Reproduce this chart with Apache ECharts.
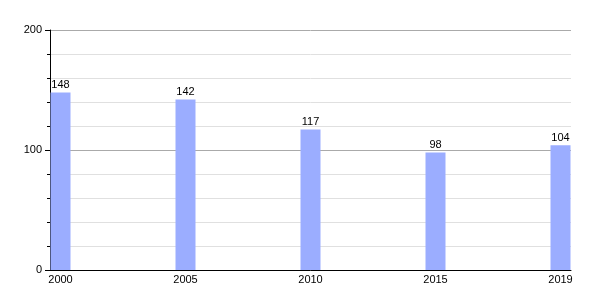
<!DOCTYPE html>
<html>
<head>
<meta charset="utf-8">
<script src="https://cdn.jsdelivr.net/npm/echarts@6/dist/echarts.min.js"></script>
<style>html,body{margin:0;padding:0;background:#fff}#c{width:600px;height:300px}</style>
</head>
<body>
<div id="c"></div>
<script>
var years = ['2000', '2005', '2010', '2015', '2019'];
var values = [148, 142, 117, 98, 104];
var yTicks = [0, 100, 200];

var chart = echarts.init(document.getElementById('c'), null, {renderer: 'canvas'});
var font = 'Liberation Sans, Arial, Helvetica, sans-serif';
chart.setOption({
  animation: false,
  backgroundColor: '#fff',
  grid: {left: 50, right: 29, top: 30, bottom: 30, containLabel: false},
  xAxis: {
    type: 'value',
    min: -0.084,
    max: 4.084,
    axisLine: {show: true, onZero: false, lineStyle: {color: '#000', width: 1}},
    axisTick: {show: false},
    splitLine: {show: false},
    axisLabel: {
      customValues: [0, 1, 2, 3, 4],
      formatter: function (v) { return years[Math.round(v)]; },
      color: '#000', fontSize: 11, fontFamily: font, margin: 4
    }
  },
  yAxis: {
    type: 'value',
    min: yTicks[0],
    max: yTicks[yTicks.length - 1],
    interval: 100,
    axisLine: {show: true, onZero: false, lineStyle: {color: '#000', width: 1}},
    axisTick: {show: true, length: 5, lineStyle: {color: '#000'}},
    minorTick: {show: true, splitNumber: 5, length: 3, lineStyle: {color: '#000'}},
    splitLine: {show: true, lineStyle: {color: '#aaa', width: 1}},
    minorSplitLine: {show: true, lineStyle: {color: '#e0e0e0', width: 1}},
    axisLabel: {color: '#000', fontSize: 11, fontFamily: font, margin: 8}
  },
  series: [{
    type: 'bar',
    data: values.map(function (v, i) { return [i, v]; }),
    barWidth: 20,
    itemStyle: {color: '#9badff'},
    label: {
      show: true, position: 'top', distance: 2,
      color: '#000', fontSize: 11, fontFamily: font,
      formatter: function (p) { return p.value[1]; }
    }
  }]
});
</script>
</body>
</html>
